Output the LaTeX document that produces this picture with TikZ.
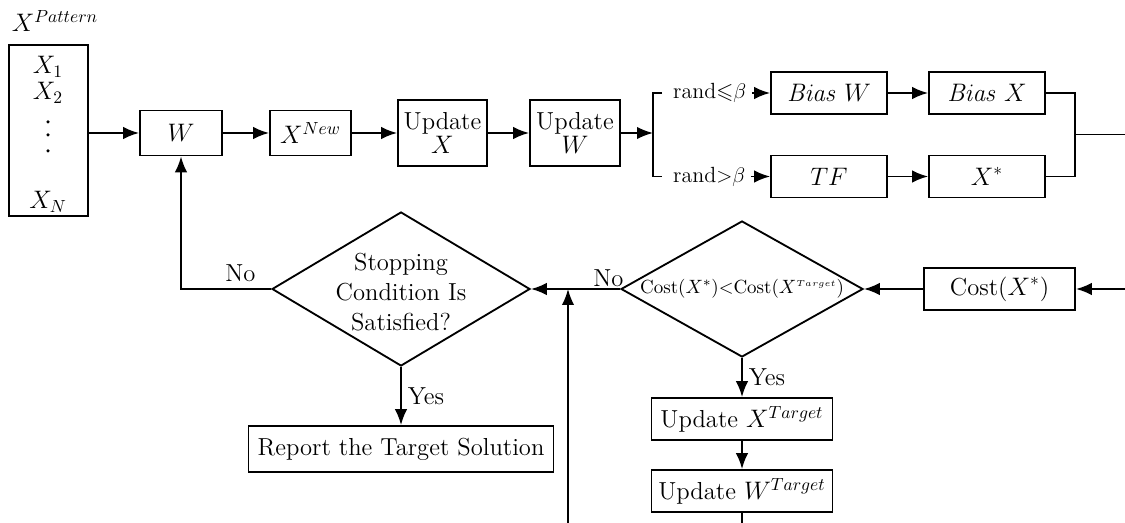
\documentclass[tikz,border=0pt]{standalone}
\usepackage{amsmath}
\usepackage{amssymb}
\usepackage{tikz}
\usetikzlibrary{shapes.geometric,arrows.meta,positioning,calc}

\tikzset{
  blk/.style={draw, line width=1.05pt, inner sep=2pt, align=center},
  dec/.style={draw, diamond, line width=1.05pt, inner sep=0pt},
  arr/.style={line width=1.05pt, -{Latex[length=3.2mm,width=2.5mm]}},
  ln/.style={line width=1.05pt},
}

\begin{document}
\begin{tikzpicture}[font=\fontsize{14}{17}\selectfont]
\useasboundingbox (0,0) rectangle (22.5,-10.46);
% input pattern
\node[blk, minimum width=1.58cm, minimum height=3.42cm] (pat) at (0.97,-2.61) {};
\node (patlab) at (1.1,-0.42) {$X^{Pattern}$};
\node (x1) at (0.96,-1.34) {$X_1$};
\node (x2) at (0.96,-1.86) {$X_2$};
\foreach \y in {-2.44,-2.70,-3.02} \fill (0.96,\y) circle (0.035);
\node (xn) at (0.96,-4.04) {$X_N$};
% top row
\node[blk, minimum width=1.64cm, minimum height=0.9cm] (w) at (3.62,-2.66) {$W$};
\node[blk, minimum width=1.62cm, minimum height=0.9cm] (xnew) at (6.21,-2.66) {$X^{New}$};
\node[blk, minimum width=1.78cm, minimum height=1.32cm] (updx) at (8.85,-2.66) {Update\\[-3pt]$X$};
\node[blk, minimum width=1.8cm, minimum height=1.32cm] (updw) at (11.5,-2.66) {Update\\[-3pt]$W$};
\draw[arr] (pat.east |- w.west) -- (w.west);
\draw[arr] (w) -- (xnew);
\draw[arr] (xnew) -- (updx);
\draw[arr] (updx) -- (updw);
% branch
\coordinate (br) at (13.06,-2.66);
\coordinate (brt) at (13.24,-1.86);
\coordinate (brb) at (13.24,-3.53);
\draw[arr] (updw) -- (br);
\draw[ln] (brt) -| (br) |- (brb);
\node[right, font=\fontsize{12.5}{15}\selectfont] (rle) at (13.34,-1.86) {rand${\leqslant}\beta$};
\node[right, font=\fontsize{12.5}{15}\selectfont] (rgt) at (13.34,-3.53) {rand${>}\beta$};
\node[blk, minimum width=2.32cm, minimum height=0.84cm] (biasw) at (16.58,-1.86) {$\mathit{Bias}\;W$};
\node[blk, minimum width=2.32cm, minimum height=0.84cm] (biasx) at (19.74,-1.86) {$\mathit{Bias}\;X$};
\node[blk, minimum width=2.32cm, minimum height=0.84cm] (tf) at (16.58,-3.53) {$TF$};
\node[blk, minimum width=2.32cm, minimum height=0.84cm] (xs) at (19.74,-3.53) {$X^{*}$};
\draw[arr] (rle) -- (biasw);
\draw[arr] (rgt) -- (tf);
\draw[arr] (biasw) -- (biasx);
\draw[arr] (tf) -- (xs);
\coordinate (jn) at (21.5,-2.69);
\coordinate (outr) at (22.5,-2.69);
\draw[ln] (biasx.east) -| (jn) |- (xs.east);
\draw[ln] (jn) -- (outr);
% middle row
\node[blk, minimum width=3.02cm, minimum height=0.84cm] (cost) at (19.99,-5.78) {Cost($X^{*}$)};
\node[dec, minimum width=4.84cm, minimum height=2.72cm] (cmp) at (14.84,-5.78) {};
\node[font=\fontsize{10.8}{13}\selectfont] (cmptxt) at (cmp) {Cost($X^{*}$){<}Cost($X^{\scriptscriptstyle Target}$)};
\node[dec, minimum width=5.16cm, minimum height=3.08cm] (stop) at (8.02,-5.78) {};
\node[align=center] (stoptxt) at (8.02,-5.84) {Stopping\\Condition Is\\Satisfied?};
\coordinate (inr) at (22.5,-5.78);
\draw[arr] (inr) -- (cost);
\draw[arr] (cost) -- (cmp.east);
\draw[arr] (cmp.west) -- node[above left, pos=0, xshift=0.12cm, inner sep=1pt] {No} (stop.east);
\coordinate (bot) at (11.36,-10.46);
\draw[arr] (bot) -- (bot |- stop.east);
\draw[arr] (stop.west) -| node[above, pos=0.17] {No} (w.south);
% bottom row
\node[blk, minimum width=6.1cm, minimum height=0.92cm] (rep) at (8.02,-8.98) {Report the Target Solution};
\node[blk, minimum width=3.62cm, minimum height=0.84cm] (updxt) at (14.84,-8.38) {Update $X^{Target}$};
\node[blk, minimum width=3.62cm, minimum height=0.84cm] (updwt) at (14.84,-9.82) {Update $W^{Target}$};
\draw[arr] (stop.south) -- node[right] {Yes} (rep);
\draw[arr] (cmp.south) -- node[right] {Yes} (updxt);
\draw[arr] (updxt) -- (updwt);
\coordinate (bot2) at (14.84,-10.46);
\draw[ln] (updwt) -- (bot2);
\end{tikzpicture}
\end{document}
